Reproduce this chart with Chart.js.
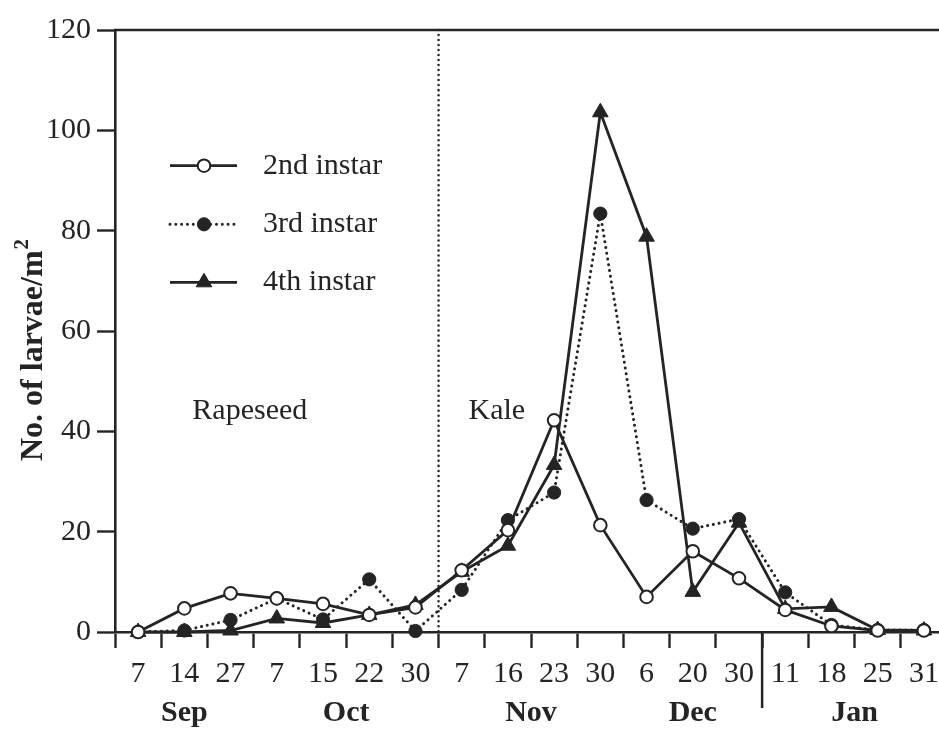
<!DOCTYPE html>
<html>
<head>
<meta charset="utf-8">
<title>Larval density by instar</title>
<script src="https://cdn.jsdelivr.net/npm/chart.js@4/dist/chart.umd.min.js"></script>
<style>
  html, body { margin: 0; padding: 0; background: #fff; overflow: hidden; width: 939px; height: 732px; }
  #wrap { position: relative; width: 960px; height: 732px; }
</style>
</head>
<body>
<div id="wrap"><canvas id="chart" width="960" height="732"></canvas></div>
<script>
// Sampling dates (day of month), grouped by month below
const dayLabels = ['7', '14', '27', '7', '15', '22', '30', '7', '16', '23', '30', '6', '20', '30', '11', '18', '25', '31'];
const monthNames = ['Sep', 'Oct', 'Nov', 'Dec', 'Jan'];
const monthFirst = [0, 3, 7, 11, 14];
const monthLast  = [2, 6, 10, 13, 17];

// Larvae per square metre
const instar2 = [0, 4.7, 7.7, 6.7, 5.6, 3.4, 4.9, 12.3, 20.3, 42.2, 21.3, 7.0, 16.1, 10.7, 4.4, 1.2, 0.3, 0.3];
const instar3 = [0, 0.3, 2.4, 6.7, 2.5, 10.5, 0.2, 8.4, 22.3, 27.8, 83.4, 26.3, 20.6, 22.5, 7.9, 1.4, 0.4, 0.4];
const instar4 = [0, 0, 0.3, 2.7, 1.8, 3.4, 5.4, 12.0, 17.2, 33.3, 103.6, 78.8, 8.0, 21.8, 4.6, 5.0, 0.4, 0.3];

const seriesNames = ['2nd instar', '3rd instar', '4th instar'];
const yTicks = [0, 20, 40, 60, 80, 100, 120];
const yTitle = 'No. of larvae/m';
const yTitleSup = '2';

// Host crops: last sampling index on rapeseed, then kale
const cropNames = ['Rapeseed', 'Kale'];
const lastRapeseedIndex = 6;
const lastYearIndex = 13;

const INK = '#242424';
const SERIF = '"Liberation Serif", "Times New Roman", Times, serif';

function pointDraw(ctx, ds, x, y) {
  ctx.save();
  ctx.setLineDash([]);
  ctx.lineWidth = ds.pointBorderWidth;
  ctx.strokeStyle = ds.pointBorderColor;
  ctx.fillStyle = ds.pointBackgroundColor;
  const r = ds.pointRadius;
  ctx.beginPath();
  if (ds.pointStyle === 'triangle') {
    ctx.moveTo(x, y - r);
    ctx.lineTo(x + r * 0.87, y + r * 0.5);
    ctx.lineTo(x - r * 0.87, y + r * 0.5);
    ctx.closePath();
  } else {
    ctx.arc(x, y, r, 0, Math.PI * 2);
  }
  ctx.fill();
  ctx.stroke();
  ctx.restore();
}

const decor = {
  id: 'decor',
  beforeDatasetsDraw(chart) {
    const { ctx, chartArea: a, scales: { x } } = chart;
    ctx.save();
    ctx.strokeStyle = INK;
    // top frame line
    ctx.lineWidth = 2.6;
    ctx.beginPath();
    ctx.moveTo(a.left - 1, a.top);
    ctx.lineTo(chart.width, a.top);
    ctx.stroke();
    // dotted boundary between the two host crops
    const bx = (x.getPixelForValue(lastRapeseedIndex) + x.getPixelForValue(lastRapeseedIndex + 1)) / 2;
    ctx.setLineDash([0.01, 5]);
    ctx.lineCap = 'round';
    ctx.lineWidth = 2.5;
    ctx.beginPath();
    ctx.moveTo(bx, a.top);
    ctx.lineTo(bx, a.bottom);
    ctx.stroke();
    ctx.restore();
  },
  afterDraw(chart) {
    const { ctx, chartArea: a, scales: { x, y } } = chart;
    ctx.save();
    ctx.fillStyle = INK;
    ctx.strokeStyle = INK;

    // y-axis title with superscript
    ctx.save();
    ctx.translate(42, 461);
    ctx.rotate(-Math.PI / 2);
    ctx.textAlign = 'left';
    ctx.textBaseline = 'alphabetic';
    ctx.font = 'bold 32px ' + SERIF;
    ctx.fillText(yTitle, 0, 0);
    const w = ctx.measureText(yTitle).width;
    ctx.font = 'bold 21px ' + SERIF;
    ctx.fillText(yTitleSup, w + 1, -14);
    ctx.restore();

    // year separator below the axis
    const sx = (x.getPixelForValue(lastYearIndex) + x.getPixelForValue(lastYearIndex + 1)) / 2;
    ctx.lineWidth = 2.5;
    ctx.beginPath();
    ctx.moveTo(sx, a.bottom);
    ctx.lineTo(sx, a.bottom + 76);
    ctx.stroke();

    // month names
    ctx.font = 'bold 30px ' + SERIF;
    ctx.textAlign = 'center';
    ctx.textBaseline = 'alphabetic';
    monthNames.forEach((m, i) => {
      const cx = (x.getPixelForValue(monthFirst[i]) + x.getPixelForValue(monthLast[i])) / 2;
      ctx.fillText(m, cx, a.bottom + 89);
    });

    // crop names
    ctx.font = '30px ' + SERIF;
    ctx.textAlign = 'left';
    const bx = (x.getPixelForValue(lastRapeseedIndex) + x.getPixelForValue(lastRapeseedIndex + 1)) / 2;
    const ty = y.getPixelForValue(40) - 12;
    ctx.fillText(cropNames[0], x.getPixelForValue(1) + 8, ty);
    ctx.fillText(cropNames[1], bx + 30, ty);

    // legend
    const rows = [165.7, 224.3, 282.3];
    chart.data.datasets.forEach((ds, i) => {
      const ly = rows[i];
      ctx.save();
      ctx.lineWidth = ds.borderWidth;
      ctx.strokeStyle = ds.borderColor;
      ctx.lineCap = ds.borderCapStyle || 'butt';
      ctx.setLineDash(ds.borderDash || []);
      ctx.beginPath();
      ctx.moveTo(170, ly);
      ctx.lineTo(237, ly);
      ctx.stroke();
      ctx.restore();
      pointDraw(ctx, ds, 204, ly);
      ctx.fillStyle = INK;
      ctx.font = '30px ' + SERIF;
      ctx.textAlign = 'left';
      ctx.textBaseline = 'middle';
      ctx.fillText(ds.label, 263, ly);
    });
    ctx.restore();
  }
};

const common = {
  borderColor: INK,
  borderWidth: 2.8,
  tension: 0,
  clip: false,
  pointBorderColor: INK,
  pointBorderWidth: 2,
  pointHoverRadius: 6
};

new Chart(document.getElementById('chart'), {
  type: 'line',
  data: {
    labels: dayLabels,
    datasets: [
      Object.assign({}, common, {
        label: seriesNames[0], data: instar2, order: 1,
        pointStyle: 'circle', pointRadius: 6.3, pointBackgroundColor: '#ffffff'
      }),
      Object.assign({}, common, {
        label: seriesNames[1], data: instar3, order: 2,
        borderDash: [0.01, 5.8], borderCapStyle: 'round', borderWidth: 3,
        pointStyle: 'circle', pointRadius: 6.6, pointBackgroundColor: INK, pointBorderWidth: 1
      }),
      Object.assign({}, common, {
        label: seriesNames[2], data: instar4, order: 3,
        pointStyle: 'triangle', pointRadius: 9, pointBackgroundColor: INK, pointBorderWidth: 1
      })
    ]
  },
  options: {
    responsive: false,
    animation: false,
    devicePixelRatio: 1,
    layout: { padding: { top: 30, right: 13, bottom: 0, left: 0 } },
    plugins: { legend: { display: false }, tooltip: { enabled: false } },
    scales: {
      x: {
        type: 'category',
        offset: true,
        afterFit(scale) { scale.height = 100; },
        border: { display: true, color: INK, width: 2.6 },
        grid: { offset: true, drawOnChartArea: false, drawTicks: true, tickLength: 16, tickWidth: 2.4, tickColor: INK, color: INK },
        ticks: { color: INK, font: { family: SERIF, size: 30 }, padding: 8, maxRotation: 0, autoSkip: false }
      },
      y: {
        min: 0, max: 120,
        afterFit(scale) { scale.width = 115; },
        afterBuildTicks(scale) { scale.ticks = yTicks.map(v => ({ value: v })); },
        border: { display: true, color: INK, width: 2.6 },
        grid: { drawOnChartArea: false, drawTicks: true, tickLength: 18, tickWidth: 2.4, tickColor: INK, color: INK },
        ticks: { color: INK, font: { family: SERIF, size: 30 }, padding: 6 },
        title: { display: false }
      }
    }
  },
  plugins: [decor]
});
</script>
</body>
</html>
